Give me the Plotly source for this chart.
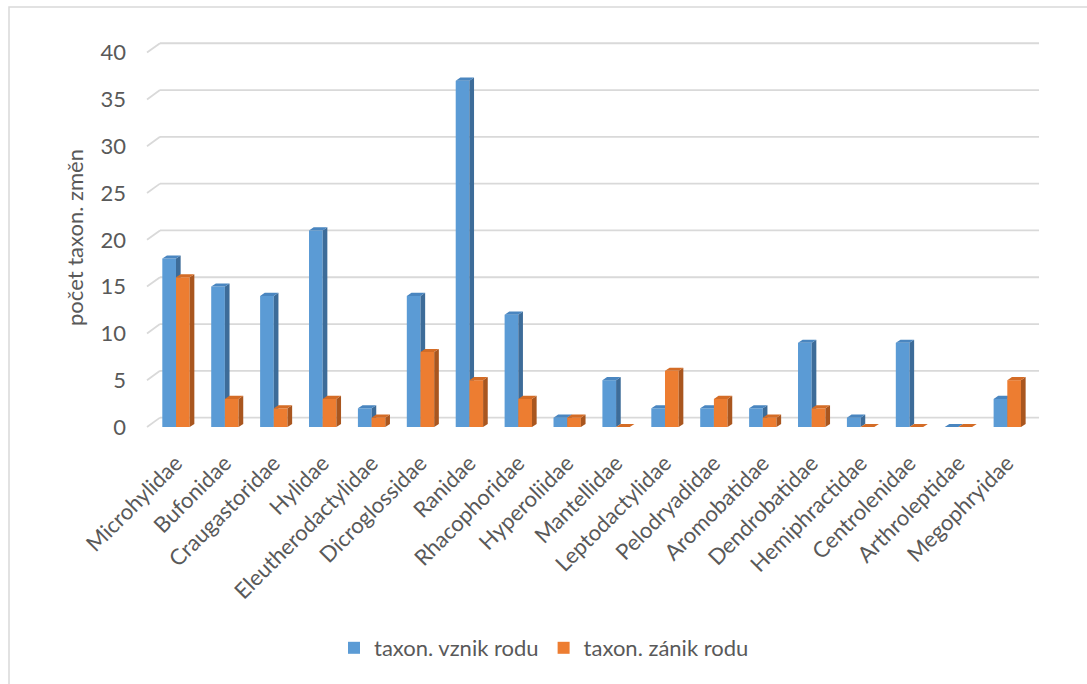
import plotly.graph_objects as go

# Frog families and the number of taxonomic changes per family
families = [
    "Microhylidae", "Bufonidae", "Craugastoridae", "Hylidae",
    "Eleutherodactylidae", "Dicroglossidae", "Ranidae", "Rhacophoridae",
    "Hyperoliidae", "Mantellidae", "Leptodactylidae", "Pelodryadidae",
    "Aromobatidae", "Dendrobatidae", "Hemiphractidae", "Centrolenidae",
    "Arthroleptidae", "Megophryidae",
]
vznik_rodu = [18, 15, 14, 21, 2, 14, 37, 12, 1, 5, 2, 2, 2, 9, 1, 9, 0, 3]
zanik_rodu = [16, 3, 2, 3, 1, 8, 5, 3, 1, 0, 6, 3, 1, 2, 0, 0, 0, 5]
series_names = ["taxon. vznik rodu", "taxon. zánik rodu"]
y_ticks = [0, 5, 10, 15, 20, 25, 30, 35, 40]
y_title = "počet taxon. změn"

# Styling
FONT = "Lato"
TEXT = "#595959"
GRID = "#D9D9D9"
BLUE = ("#5B9BD5", "#3D6C99", "#4A86C0")     # front, side, top
ORANGE = ("#ED7D31", "#A9561F", "#D46C26")

# Bar geometry in axis units
BAR_W = 0.28
DX, DY = 0.095, 0.33         # depth of each column (right / up)
FLOOR_DY = 1.0               # depth of the floor / back wall

X_RANGE = [-0.7362, 17.771]
Y_RANGE = [-1.923, 42.415]


def column_faces(values, offset):
    """Side and top faces of 3-D looking columns, as closed polygons."""
    sx, sy, tx, ty = [], [], [], []
    for i, v in enumerate(values):
        x0 = i + offset
        x1 = x0 + BAR_W
        sx += [x1, x1 + DX, x1 + DX, x1, x1, None]
        sy += [0, DY, v + DY, v, 0, None]
        tx += [x0, x0 + DX, x1 + DX, x1, x0, None]
        ty += [v, v + DY, v + DY, v, v, None]
    return sx, sy, tx, ty


fig = go.Figure()

series = [
    (vznik_rodu, -BAR_W, BLUE, "x", "y", series_names[0]),
    (zanik_rodu, 0.0, ORANGE, "x2", "y2", series_names[1]),
]
for values, offset, (c_front, c_side, c_top), xa, ya, name in series:
    fig.add_trace(go.Bar(
        x=list(range(len(families))), y=values, width=BAR_W, offset=offset,
        marker=dict(color=c_front, line=dict(width=0)),
        name=name, xaxis=xa, yaxis=ya, hoverinfo="x+y",
    ))
    sx, sy, tx, ty = column_faces(values, offset)
    fig.add_trace(go.Scatter(
        x=sx, y=sy, mode="lines", fill="toself", fillcolor=c_side,
        line=dict(width=0, color=c_side), showlegend=False,
        hoverinfo="skip", xaxis=xa, yaxis=ya,
    ))
    fig.add_trace(go.Scatter(
        x=tx, y=ty, mode="lines", fill="toself", fillcolor=c_top,
        line=dict(width=0, color=c_top), showlegend=False,
        hoverinfo="skip", xaxis=xa, yaxis=ya,
    ))

# Floor edge + back-wall gridlines
x_front, x_back, x_right = -0.593, -0.327, 17.649
shapes = []
for v in y_ticks:
    shapes.append(dict(type="line", xref="x", yref="y", layer="below",
                       x0=x_front, y0=v, x1=x_back, y1=v + FLOOR_DY,
                       line=dict(color=GRID, width=1.8)))
    shapes.append(dict(type="line", xref="x", yref="y", layer="below",
                       x0=x_back, y0=v + FLOOR_DY, x1=x_right, y1=v + FLOOR_DY,
                       line=dict(color=GRID, width=1.8)))
# Chart border
shapes.append(dict(type="rect", xref="paper", yref="paper", layer="below",
                   x0=(9 - 140) / 905, x1=(1095 - 140) / 905,
                   y0=(445 - 695) / 415, y1=(445 - 7) / 415,
                   line=dict(color=GRID, width=1.5)))

fig.update_layout(
    width=1087, height=684, autosize=False,
    margin=dict(l=140, r=42, t=30, b=239),
    paper_bgcolor="white", plot_bgcolor="white",
    font=dict(family=FONT, size=22, color=TEXT),
    barmode="overlay",
    shapes=shapes,
    xaxis=dict(
        range=X_RANGE, tickmode="array",
        tickvals=list(range(len(families))), ticktext=families,
        tickangle=-45, showgrid=False, zeroline=False, showline=False,
        ticks="", tickfont=dict(size=22, color=TEXT),
    ),
    yaxis=dict(
        range=Y_RANGE, tickmode="array", tickvals=y_ticks,
        showgrid=False, zeroline=False, showline=False, ticks="",
        ticklabelstandoff=13, tickfont=dict(size=22, color=TEXT),
        title=dict(text=y_title, standoff=10,
                   font=dict(size=22, color=TEXT)),
    ),
    xaxis2=dict(range=X_RANGE, overlaying="x", anchor="y2", visible=False),
    yaxis2=dict(range=Y_RANGE, overlaying="y", anchor="x2", visible=False),
    legend=dict(
        orientation="h", xanchor="center", yanchor="middle",
        x=(544 - 140) / 905, y=(445 - 648) / 415,
        font=dict(size=22, color=TEXT), itemwidth=30,
        traceorder="normal", bgcolor="rgba(0,0,0,0)",
    ),
    showlegend=True,
)

fig.write_html("out.html")
